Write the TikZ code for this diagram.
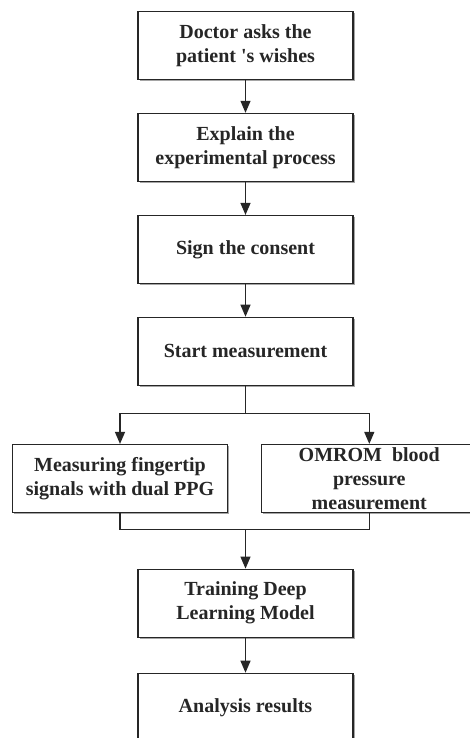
\documentclass[tikz,border=0pt]{standalone}
\usepackage{fontspec}
\setmainfont{Liberation Serif}
\usetikzlibrary{arrows.meta,shadows}
\begin{document}
\begin{tikzpicture}[x=1pt,y=1pt,
 box/.style={draw=black!85, line width=1.2pt, fill=white, minimum width=215pt, minimum height=68pt,
   align=center, font=\fontsize{20}{24}\selectfont\bfseries, text=black!85, inner sep=0pt,
   drop shadow={shadow xshift=1.6pt, shadow yshift=-1.8pt, fill=black!50, opacity=0.7}},
 conn/.style={draw=black!85, line width=1.2pt},
 arr/.style={conn, -{Triangle[length=12pt,width=10pt]}}]
\clip (0,0) rectangle (470,-738);
\fill[white] (0,0) rectangle (470,-738);
\node[box] (b1) at (245.5,-45.5) {Doctor asks the\\patient \textquotesingle s wishes};
\node[box] (b2) at (245.5,-147.4) {Explain the\\experimental process};
\node[box] (b3) at (245.5,-249.5) {Sign the consent};
\node[box] (b4) at (245.5,-351.3) {Start measurement};
\node[box] (b5) at (120,-478.5) {Measuring fingertip\\signals with dual PPG};
\node[box] (b6) at (369.3,-478.5) {OMROM\ \ blood\\pressure\\measurement};
\node[box] (b7) at (245.5,-603.2) {Training Deep\\Learning Model};
\node[box] (b8) at (245.5,-707.3) {Analysis results};
\coordinate (s1) at (245.5,-413.3);
\coordinate (m1) at (245.5,-529.3);
\draw[arr] (b1) -- (b2);
\draw[arr] (b2) -- (b3);
\draw[arr] (b3) -- (b4);
\draw[conn] (b4.south) -- (s1);
\draw[arr] (s1) -| (b5.north);
\draw[arr] (s1) -| (b6.north);
\draw[conn] (b5.south) |- (m1);
\draw[conn] (b6.south) |- (m1);
\draw[arr] (m1) -- (b7.north);
\draw[arr] (b7) -- (b8);
\end{tikzpicture}
\end{document}
